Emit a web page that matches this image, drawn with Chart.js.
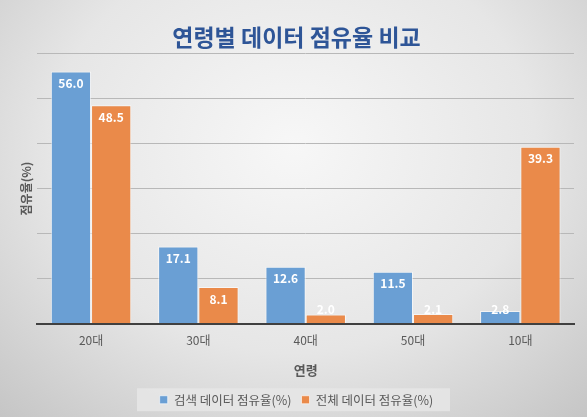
<!DOCTYPE html>
<html><head><meta charset="utf-8">
<script src="https://cdn.jsdelivr.net/npm/chart.js@4"></script>
<style>
html,body{margin:0;padding:0;}
body{width:587px;height:417px;background:radial-gradient(ellipse 75% 90% at 50% 35%, #f7f7f7 0%, #e6e6e6 55%, #c4c4c4 100%);}
#wrap{width:587px;height:417px;position:relative;}
</style></head>
<body><div id="wrap"><canvas id="c" width="587" height="417"></canvas></div>
<script>
const categories = ['20대','30대','40대','50대','10대'];
const searchShare = [56.0, 17.1, 12.6, 11.5, 2.8];
const totalShare = [48.5, 8.1, 2.0, 2.1, 39.3];
const seriesNames = ['검색 데이터 점유율(%)','전체 데이터 점유율(%)'];
const FONT = "'Noto Sans CJK KR','Noto Sans',sans-serif";

const legendBg = {
  id:'legendBg',
  beforeDraw(chart){
    const lg = chart.legend; if(!lg||!lg.legendHitBoxes||!lg.legendHitBoxes.length) return;
    const hb = lg.legendHitBoxes;
    let t=Infinity,b=-Infinity;
    hb.forEach(h=>{t=Math.min(t,h.top);b=Math.max(b,h.top+h.height);});
    const ctx=chart.ctx; ctx.save(); ctx.fillStyle='rgba(230,230,230,0.85)';
    const cy=(t+b)/2;
    ctx.fillRect(137,cy-11.5,313,23); ctx.restore();
  }
};
const dataLabels = {
  id:'dataLabels',
  afterDatasetsDraw(chart){
    const ctx=chart.ctx; ctx.save();
    ctx.font="bold 12px "+FONT; ctx.fillStyle='#ffffff'; ctx.textAlign='center'; ctx.textBaseline='middle';
    chart.data.datasets.forEach((ds,i)=>{
      chart.getDatasetMeta(i).data.forEach((bar,j)=>{
        ctx.fillText(ds.data[j].toFixed(1), bar.x, Math.min(bar.y+12, bar.base-14));
      });
    });
    ctx.restore();
  }
};

new Chart(document.getElementById('c'),{
  type:'bar',
  data:{labels:categories,datasets:[
    {label:seriesNames[0],data:searchShare,backgroundColor:'#6A9FD4',borderColor:'rgba(255,255,255,0.6)',borderWidth:1,categoryPercentage:0.75,barPercentage:1},
    {label:seriesNames[1],data:totalShare,backgroundColor:'#EA8A4A',borderColor:'rgba(255,255,255,0.6)',borderWidth:1,categoryPercentage:0.75,barPercentage:1}
  ]},
  options:{
    responsive:false,animation:false,devicePixelRatio:1,
    layout:{padding:{left:19,right:13,top:14,bottom:1}},
    plugins:{
      title:{display:true,text:'연령별 데이터 점유율 비교',color:'#2E5597',font:{family:FONT,size:23,weight:'bold'},padding:{top:9,bottom:3}},
      legend:{position:'bottom',labels:{font:{family:FONT,size:12.5},color:'#595959',boxWidth:8,boxHeight:8,padding:10},},
      tooltip:{enabled:false}
    },
    scales:{
      x:{grid:{display:false},border:{color:'#404040',width:2},
         ticks:{font:{family:FONT,size:12},color:'#595959',padding:2},
         title:{display:true,text:'연령',font:{family:FONT,size:13,weight:'bold'},color:'#595959',padding:{top:12,bottom:6}}},
      y:{min:0,max:60,ticks:{display:false,stepSize:10},border:{display:false},grid:{color:'#b8b8b8',lineWidth:1,drawTicks:false},
         title:{display:true,text:'점유율(%)',font:{family:FONT,size:12,weight:'bold'},color:'#595959',padding:{top:0,bottom:4}}}
    }
  },
  plugins:[legendBg,dataLabels]
});
</script></body></html>
